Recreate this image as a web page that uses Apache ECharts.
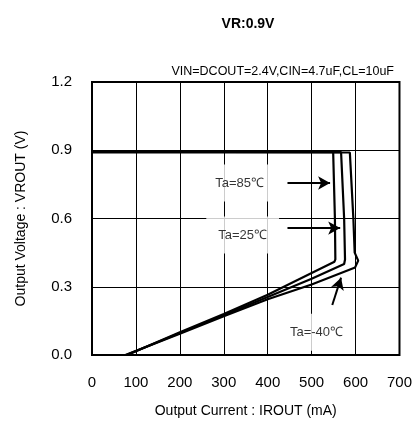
<!DOCTYPE html>
<html>
<head>
<meta charset="utf-8">
<script src="https://cdn.jsdelivr.net/npm/echarts@6/dist/echarts.min.js"></script>
<style>
  html, body { margin: 0; padding: 0; background: #fff; }
  #chart { width: 415px; height: 423px; }
</style>
</head>
<body>
<div id="chart"></div>
<script>
var chart = echarts.init(document.getElementById('chart'));

// output current (mA) / output voltage (V)
var curve85 = [[0, 0.895], [300, 0.895], [549, 0.893], [552, 0.885], [553, 0.6], [554, 0.42], [552, 0.41],
  [500, 0.36], [400, 0.265], [300, 0.18], [200, 0.1], [80, 0]];
var curve25 = [[0, 0.893], [300, 0.893], [567, 0.892], [570, 0.885], [574, 0.6], [576, 0.42], [574, 0.4],
  [500, 0.335], [400, 0.255], [300, 0.175], [200, 0.097], [78, 0]];
var curveM40 = [[0, 0.891], [300, 0.891], [587, 0.89], [590, 0.882], [595, 0.6], [598, 0.45], [606, 0.415],
  [599, 0.385], [500, 0.31], [400, 0.245], [300, 0.17], [200, 0.093], [76, 0]];

var xTicks = [0, 100, 200, 300, 400, 500, 600, 700];
var yTicks = [0, 0.3, 0.6, 0.9, 1.2];

var labelNames = ['Ta=85℃', 'Ta=25℃', 'Ta=-40℃'];
var labelPos = [[336, 0.756], [343, 0.527], [511, 0.1]];
var arrows = [
  [[445, 0.756], [542, 0.756]],
  [[445, 0.558], [565, 0.558]],
  [[547, 0.22], [567, 0.34]]
];

var font = 'Liberation Sans, Arial, sans-serif';

function curveSeries(name, data) {
  return {
    name: name,
    type: 'line',
    data: data,
    showSymbol: false,
    symbol: 'none',
    silent: true,
    lineStyle: { color: '#000', width: 2.2 },
    z: 3
  };
}

chart.setOption({
  animation: false,
  title: [{
    text: 'VR:0.9V',
    left: 243,
    top: 12,
    textAlign: 'center',
    textStyle: { fontFamily: font, fontSize: 14, fontWeight: 'bold', color: '#000' }
  }, {
    text: 'VIN=DCOUT=2.4V,CIN=4.7uF,CL=10uF',
    right: 16,
    top: 60,
    textStyle: { fontFamily: font, fontSize: 12.5, fontWeight: 'normal', color: '#000' }
  }],
  grid: {
    left: 92,
    right: 15,
    top: 82,
    bottom: 68,
    show: true,
    borderColor: '#000',
    borderWidth: 2
  },
  xAxis: {
    type: 'value',
    min: 0,
    max: 700,
    interval: 100,
    name: 'Output Current : IROUT (mA)',
    nameLocation: 'middle',
    nameGap: 49,
    nameTextStyle: { fontFamily: font, fontSize: 14, color: '#000' },
    axisLine: { show: false },
    axisTick: { show: false },
    axisLabel: {
      fontFamily: font, fontSize: 15, color: '#000', margin: 20,
      formatter: function(v) { return xTicks.indexOf(v) >= 0 ? String(v) : ''; }
    },
    splitLine: { show: true, lineStyle: { color: '#000', width: 1 } }
  },
  yAxis: {
    type: 'value',
    min: 0,
    max: 1.2,
    interval: 0.3,
    name: 'Output Voltage : VROUT (V)',
    nameLocation: 'middle',
    nameGap: 64,
    nameTextStyle: { fontFamily: font, fontSize: 14, color: '#000' },
    axisLine: { show: false },
    axisTick: { show: false },
    axisLabel: {
      fontFamily: font, fontSize: 15, color: '#000', margin: 20,
      formatter: function(v) {
        for (var i = 0; i < yTicks.length; i++) {
          if (Math.abs(yTicks[i] - v) < 1e-6) return yTicks[i].toFixed(1);
        }
        return '';
      }
    },
    splitLine: { show: true, lineStyle: { color: '#000', width: 1 } }
  },
  series: [
    curveSeries('85', curve85),
    curveSeries('25', curve25),
    curveSeries('-40', curveM40),
    {
      type: 'scatter',
      silent: true,
      symbolSize: 0,
      z: 4,
      data: labelPos.map(function(p, i) { return [p[0], p[1], labelNames[i]]; }),
      label: {
        show: true,
        position: 'inside',
        formatter: function(p) { return p.value[2]; },
        fontFamily: font,
        fontSize: 13,
        color: '#000',
        backgroundColor: '#fff',
        padding: [12, 12]
      },
      markLine: {
        silent: true,
        symbol: ['none', 'arrow'],
        symbolSize: [10, 12],
        label: { show: false },
        lineStyle: { color: '#000', width: 2, type: 'solid' },
        data: arrows.map(function(a) {
          return [{ coord: a[0] }, { coord: a[1] }];
        })
      }
    }
  ]
});
</script>
</body>
</html>
